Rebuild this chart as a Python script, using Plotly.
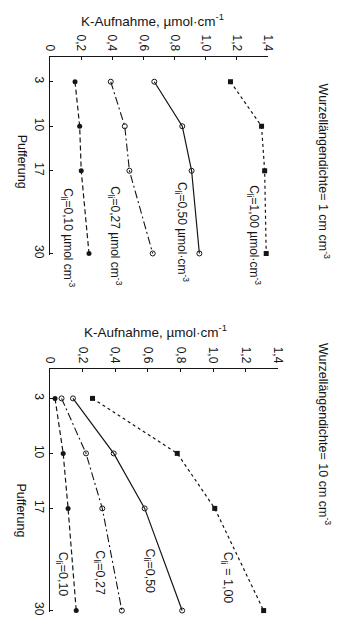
import plotly.graph_objects as go

# Pufferung (buffer power) levels on the vertical axis
pufferung = [3, 10, 17, 30]

# K uptake (µmol·cm-1) per initial solution concentration C_li
# Panel A: root length density 1 cm cm-3
k_rld1_c100 = [1.16, 1.36, 1.38, 1.39]
k_rld1_c050 = [0.67, 0.85, 0.91, 0.96]
k_rld1_c027 = [0.39, 0.48, 0.51, 0.66]
k_rld1_c010 = [0.16, 0.19, 0.20, 0.25]

# Panel B: root length density 10 cm cm-3
k_rld10_c100 = [0.26, 0.78, 1.01, 1.31]
k_rld10_c050 = [0.14, 0.39, 0.58, 0.81]
k_rld10_c027 = [0.07, 0.22, 0.32, 0.44]
k_rld10_c010 = [0.03, 0.08, 0.11, 0.16]

k_ticks = [0, 0.2, 0.4, 0.6, 0.8, 1.0, 1.2, 1.4]
k_ticktext = ["0", "0,2", "0,4", "0,6", "0,8", "1,0", "1,2", "1,4"]
puff_ticktext = ["3", "10", "17", "30"]

W, H = 339, 639
INK = "#151515"
FONT = "Liberation Sans, Arial, sans-serif"


def px(x, y):
    """Pixel position -> paper coordinates."""
    return x / W, 1 - y / H


styles = {
    "c100": dict(marker=dict(symbol="square", size=5, color=INK),
                 line=dict(color=INK, width=1.2, dash="3px,3px")),
    "c050": dict(marker=dict(symbol="circle-open", size=5, color=INK,
                             line=dict(width=1, color=INK)),
                 line=dict(color=INK, width=1.2)),
    "c027": dict(marker=dict(symbol="circle-open", size=5, color=INK,
                             line=dict(width=1, color=INK)),
                 line=dict(color=INK, width=1.1, dash="8px,3px,2px,3px")),
    "c010": dict(marker=dict(symbol="circle", size=5, color=INK),
                 line=dict(color=INK, width=1.2, dash="5px,3px")),
}

fig = go.Figure()

panels = [
    ("x", "y", dict(c100=k_rld1_c100, c050=k_rld1_c050, c027=k_rld1_c027, c010=k_rld1_c010)),
    ("x2", "y2", dict(c100=k_rld10_c100, c050=k_rld10_c050, c027=k_rld10_c027, c010=k_rld10_c010)),
]
for xa, ya, series in panels:
    for key, vals in series.items():
        fig.add_trace(go.Scatter(
            x=vals, y=pufferung, xaxis=xa, yaxis=ya, mode="lines+markers",
            cliponaxis=False, showlegend=False, **styles[key]))

common_k = dict(range=[0, 1.4], side="top", showline=True, linecolor=INK, linewidth=1.3,
                ticks="inside", ticklen=3, tickcolor=INK, tickvals=k_ticks,
                ticktext=k_ticktext, tickangle=90, showgrid=False, zeroline=False,
                tickfont=dict(family=FONT, size=12, color=INK))
common_p = dict(autorange=False, showline=True, linecolor=INK, linewidth=1.3,
                ticks="inside", ticklen=3, tickcolor=INK, tickvals=pufferung,
                ticktext=puff_ticktext, tickangle=90, showgrid=False, zeroline=False,
                tickfont=dict(family=FONT, size=12, color=INK))

fig.update_layout(
    width=W, height=H, margin=dict(l=0, r=0, t=0, b=0),
    paper_bgcolor="white", plot_bgcolor="white",
    xaxis=dict(domain=[45 / W, 272 / W], anchor="y", **common_k),
    yaxis=dict(domain=[1 - 257 / H, 1 - 57 / H], anchor="x",
               range=[30.3, -0.94], **common_p),
    xaxis2=dict(domain=[45 / W, 283 / W], anchor="y2", **common_k),
    yaxis2=dict(domain=[1 - 616 / H, 1 - 371 / H], anchor="x2",
                range=[30.2, -0.78], **common_p),
)

texts = [
    # axis titles
    ("K-Aufnahme, µmol·cm<sup>-1</sup>", 152, 20, 0, 13.5),
    ("K-Aufnahme, µmol·cm<sup>-1</sup>", 155, 333, 0, 13.5),
    ("Pufferung", 16, 163, 90, 12.5),
    ("Pufferung", 15, 514, 90, 12.5),
    ("Wurzellängendichte= 1 cm cm<sup>-3</sup>", 331, 172, 90, 12.5),
    ("Wurzellängendichte= 10 cm cm<sup>-3</sup>", 331, 437, 90, 12.5),
    # series labels, panel A
    ("C<sub>li</sub>=1,00 µmol·cm<sup>-3</sup>", 258, 237, 90, 12),
    ("C<sub>li</sub>=0,50 µmol·cm<sup>-3</sup>", 183, 234, 90, 12),
    ("C<sub>li</sub>=0,27 µmol cm<sup>-3</sup>", 113, 237, 90, 12),
    ("C<sub>li</sub>=0,10 µmol cm<sup>-3</sup>", 64, 239, 90, 12),
    # series labels, panel B
    ("C<sub>li</sub> = 1,00", 229, 581, 90, 12.5),
    ("C<sub>li</sub>=0,50", 148, 575, 90, 12.5),
    ("C<sub>li</sub>=0,27", 96, 576, 90, 12.5),
    ("C<sub>li</sub>=0,10", 57, 578, 90, 12.5),
]
for txt, x, y, ang, size in texts:
    xp, yp = px(x, y)
    fig.add_annotation(text=txt, x=xp, y=yp, xref="paper", yref="paper",
                       xanchor="center", yanchor="middle", showarrow=False,
                       textangle=ang, font=dict(family=FONT, size=size, color=INK))

fig.write_html("out.html")
